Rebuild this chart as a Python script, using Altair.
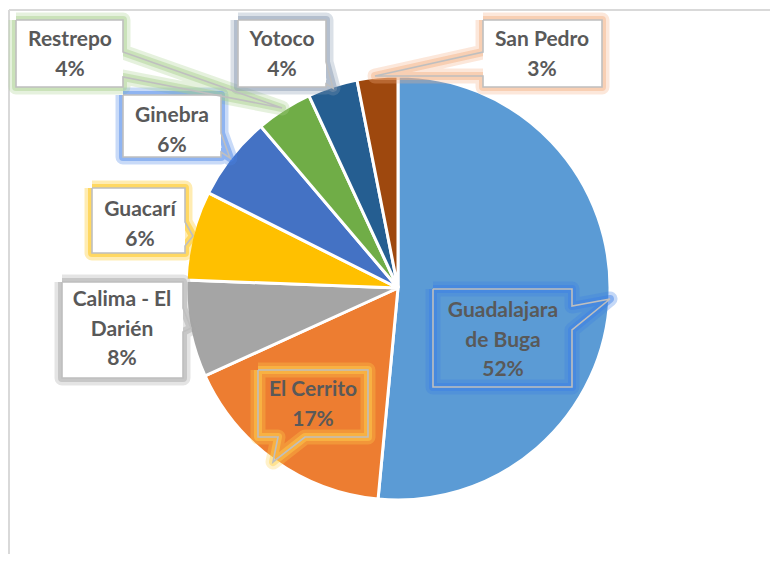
import altair as alt
import pandas as pd

# ---- data ----
names = ["Guadalajara de Buga", "El Cerrito", "Calima - El Darién", "Guacarí",
         "Ginebra", "Restrepo", "Yotoco", "San Pedro"]
values = [51.5, 16.7, 7.4, 6.8, 6.4, 4.3, 3.8, 3.1]
pct_labels = ["52%", "17%", "8%", "6%", "6%", "4%", "4%", "3%"]
label_names = ["Guadalajara\nde Buga", "El Cerrito", "Calima - El\nDarién", "Guacarí",
               "Ginebra", "Restrepo", "Yotoco", "San Pedro"]
colors = ["#5B9BD5", "#ED7D31", "#A5A5A5", "#FFC000", "#4472C4", "#70AD47", "#255E91", "#9E480E"]

# ---- layout (image pixel coords) ----
PADL = 4
OFFX, OFFY = 8 + PADL, 8
W, H = 778 - OFFX - 8, 562 - OFFY - 8
CX, CY, R = 398, 288, 212
callouts = {
    "Guadalajara de Buga": dict(box=(433, 289, 572, 387), side="right", base=(306, 330), tip=(610, 299), text=(503, 311), fill=False, glow="#3C7FE6"),
    "El Cerrito": dict(box=(258, 370, 368, 437), side="bottom", base=(278, 305), tip=(273, 462), text=(313, 390), fill=False, glow="#FFD24D"),
    "Calima - El Darién": dict(box=(62, 282, 183, 378), side="right", base=(308, 332), tip=(191, 328), text=(122, 300), fill=True, glow="#A5A5A5"),
    "Guacarí": dict(box=(92, 188, 185, 253), side="right", base=(222, 246), tip=(193, 236), text=(140, 210), fill=True, glow="#FFC000"),
    "Ginebra": dict(box=(123, 95, 221, 157), side="right", base=(133, 152), tip=(230, 158), text=(172, 116), fill=True, glow="#4A86E8"),
    "Restrepo": dict(box=(16, 20, 123, 87), side="right", base=(52, 77), tip=(282, 108), text=(70, 40), fill=True, glow="#A9D18E"),
    "Yotoco": dict(box=(238, 20, 326, 87), side="right", base=(62, 84), tip=(333, 88), text=(282, 40), fill=True, glow="#8497B0"),
    "San Pedro": dict(box=(483, 20, 602, 87), side="left", base=(52, 76), tip=(375, 76), text=(542, 40), fill=True, glow="#F4B183"),
}

pie_df = pd.DataFrame({"name": names, "value": values, "idx": list(range(len(names)))})

path_rows, box_rows, text_rows = [], [], []
for i, n in enumerate(names):
    c = callouts[n]
    x0, y0, x1, y1 = c["box"]
    a, b = c["base"]
    tx, ty = c["tip"]
    if c["side"] == "right":
        pts = [(x0, y0), (x1, y0), (x1, a), (tx, ty), (x1, b), (x1, y1), (x0, y1), (x0, y0)]
    elif c["side"] == "left":
        pts = [(x0, y0), (x1, y0), (x1, y1), (x0, y1), (x0, b), (tx, ty), (x0, a), (x0, y0)]
    else:
        pts = [(x0, y0), (x1, y0), (x1, y1), (b, y1), (tx, ty), (a, y1), (x0, y1), (x0, y0)]
    for k, (px, py) in enumerate(pts):
        path_rows.append({"name": n, "k": k, "x": px - OFFX, "y": py - OFFY})
    if c["fill"]:
        box_rows.append({"name": n, "x": x0 - OFFX, "x2": x1 - OFFX, "y": y0 - OFFY, "y2": y1 - OFFY})
    text_rows.append({"name": n, "label": label_names[i] + "\n" + pct_labels[i],
                      "x": c["text"][0] - OFFX, "y": c["text"][1] - OFFY})

path_df = pd.DataFrame(path_rows)
box_df = pd.DataFrame(box_rows)
text_df = pd.DataFrame(text_rows)

xs = alt.Scale(domain=[0, W], range=[0, W])
ys = alt.Scale(domain=[0, H], range=[0, H])

pie = alt.Chart(pie_df).mark_arc(outerRadius=R, stroke="white", strokeWidth=3).encode(
    theta=alt.Theta("value:Q", stack=True),
    color=alt.Color("name:N", scale=alt.Scale(domain=names, range=colors), legend=None),
    order=alt.Order("idx:Q"),
    x=alt.value(CX - OFFX),
    y=alt.value(CY - OFFY),
)

glow_scale = alt.Scale(domain=names, range=[callouts[n]["glow"] for n in names])

def glow(width, op):
    return alt.Chart(path_df).mark_line(strokeWidth=width, opacity=op, strokeJoin="round").encode(
        x=alt.X("x:Q", scale=xs, axis=None), y=alt.Y("y:Q", scale=ys, axis=None),
        detail="name:N", order="k:Q",
        color=alt.Color("name:N", scale=glow_scale, legend=None),
    )

glow1 = glow(15, 0.3)
glow2 = glow(8, 0.45)
boxes = alt.Chart(box_df).mark_rect(fill="white").encode(
    x=alt.X("x:Q", scale=xs, axis=None), x2="x2:Q",
    y=alt.Y("y:Q", scale=ys, axis=None), y2="y2:Q",
)
outline = alt.Chart(path_df).mark_line(strokeWidth=1.6, color="#BFBFBF", strokeJoin="miter").encode(
    x=alt.X("x:Q", scale=xs, axis=None), y=alt.Y("y:Q", scale=ys, axis=None),
    detail="name:N", order="k:Q",
)
texts = alt.Chart(text_df).mark_text(font="Lato", fontWeight="bold", fontSize=21, color="#595959",
                                     lineBreak="\n", lineHeight=29.5, align="center", baseline="middle").encode(
    x=alt.X("x:Q", scale=xs, axis=None), y=alt.Y("y:Q", scale=ys, axis=None),
    text="label:N",
)
border_top = alt.Chart(pie_df).mark_rule(color="#D9D9D9", strokeWidth=1.5).encode(
    x=alt.value(9 - OFFX), x2=alt.value(W + 8), y=alt.value(10 - OFFY))
border_left = alt.Chart(pie_df).mark_rule(color="#D9D9D9", strokeWidth=2).encode(
    x=alt.value(9 - OFFX), y=alt.value(10 - OFFY), y2=alt.value(H + 8))

chart = alt.layer(border_top, border_left, pie, glow1, glow2, boxes, outline, texts).resolve_scale(
    color="independent"
).properties(
    width=W, height=H,
    padding={"left": PADL, "top": 0, "right": 0, "bottom": 0},
    autosize=alt.AutoSizeParams(type="none")
).configure_view(stroke=None)

chart.save("out.html", embed_options={"renderer": "svg", "actions": False})
